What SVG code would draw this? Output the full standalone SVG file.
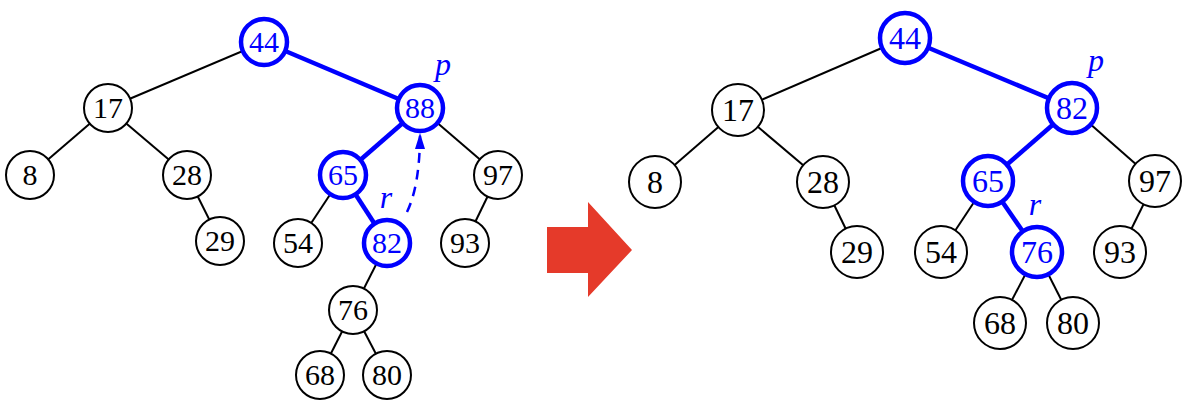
<svg xmlns="http://www.w3.org/2000/svg" width="1190" height="404" viewBox="0 0 1190 404">
<style>
.e{stroke:#000;stroke-width:2;fill:none}
.eb{stroke:#0000ff;stroke-width:4.5;fill:none}
.n{fill:#fff;stroke:#000;stroke-width:2}
.nb{fill:#fff;stroke:#0000ff;stroke-width:4.5}
text{font-family:"Liberation Serif","Times New Roman",serif;text-anchor:middle}
.t{font-size:30px;fill:#000}
.tb{font-size:30px;fill:#0000ff}
.T{font-size:32px;fill:#000}
.TB{font-size:32px;fill:#0000ff}
.lab{font-style:italic;font-size:32px;fill:#0000ff}
</style>
<defs>
<marker id="ah" viewBox="0 0 16 10" refX="16" refY="5" markerWidth="16" markerHeight="10" markerUnits="userSpaceOnUse" orient="auto">
<path d="M0,0 L16,5 L0,10 z" fill="#0000ff"/>
</marker>
</defs>
<rect width="1190" height="404" fill="#fff"/>
<g id="connectors">
<line class="e" x1="264" y1="42" x2="108" y2="108"/>
<line class="eb" x1="264" y1="42" x2="420" y2="108"/>
<line class="e" x1="108" y1="108" x2="30" y2="175"/>
<line class="e" x1="108" y1="108" x2="187" y2="175"/>
<line class="e" x1="187" y1="175" x2="220" y2="241"/>
<line class="eb" x1="420" y1="108" x2="343" y2="175"/>
<line class="e" x1="420" y1="108" x2="498" y2="175"/>
<line class="e" x1="343" y1="175" x2="298" y2="243"/>
<line class="eb" x1="343" y1="175" x2="387" y2="243"/>
<line class="e" x1="498" y1="175" x2="465" y2="243"/>
<line class="e" x1="387" y1="243" x2="353" y2="310"/>
<line class="e" x1="353" y1="310" x2="320" y2="375"/>
<line class="e" x1="353" y1="310" x2="387" y2="375"/>
<path d="M407,212 Q420,185 420,133" stroke="#0000ff" stroke-width="2.5" fill="none" stroke-dasharray="10,7" marker-end="url(#ah)"/>
<line class="e" x1="905" y1="38" x2="738" y2="110"/>
<line class="eb" x1="905" y1="38" x2="1072" y2="108"/>
<line class="e" x1="738" y1="110" x2="655" y2="182"/>
<line class="e" x1="738" y1="110" x2="823" y2="182"/>
<line class="e" x1="823" y1="182" x2="857" y2="252"/>
<line class="eb" x1="1072" y1="108" x2="988" y2="181"/>
<line class="e" x1="1072" y1="108" x2="1155" y2="181"/>
<line class="e" x1="988" y1="181" x2="941" y2="252"/>
<line class="eb" x1="988" y1="181" x2="1037" y2="252"/>
<line class="e" x1="1155" y1="181" x2="1120" y2="252"/>
<line class="e" x1="1037" y1="252" x2="1000" y2="323"/>
<line class="e" x1="1037" y1="252" x2="1073" y2="323"/>
</g>
<g id="L44"><circle class="nb" cx="264" cy="42" r="23"/><text class="tb" x="264" y="52">44</text></g>
<g id="L17"><circle class="n" cx="108" cy="108" r="24"/><text class="t" x="108" y="118">17</text></g>
<g id="L88"><circle class="nb" cx="420" cy="108" r="23"/><text class="tb" x="420" y="118">88</text></g>
<g id="L8"><circle class="n" cx="30" cy="175" r="24"/><text class="t" x="30" y="185">8</text></g>
<g id="L28"><circle class="n" cx="187" cy="175" r="24"/><text class="t" x="187" y="185">28</text></g>
<g id="L65"><circle class="nb" cx="343" cy="175" r="23"/><text class="tb" x="343" y="185">65</text></g>
<g id="L97"><circle class="n" cx="498" cy="175" r="24"/><text class="t" x="498" y="185">97</text></g>
<g id="L29"><circle class="n" cx="220" cy="241" r="24"/><text class="t" x="220" y="251">29</text></g>
<g id="L54"><circle class="n" cx="298" cy="243" r="24"/><text class="t" x="298" y="253">54</text></g>
<g id="L82"><circle class="nb" cx="387" cy="243" r="23"/><text class="tb" x="387" y="253">82</text></g>
<g id="L93"><circle class="n" cx="465" cy="243" r="24"/><text class="t" x="465" y="253">93</text></g>
<g id="L76"><circle class="n" cx="353" cy="310" r="24"/><text class="t" x="353" y="320">76</text></g>
<g id="L68"><circle class="n" cx="320" cy="375" r="24"/><text class="t" x="320" y="385">68</text></g>
<g id="L80"><circle class="n" cx="387" cy="375" r="24"/><text class="t" x="387" y="385">80</text></g>
<g id="Llabels"><text class="lab" x="443" y="75">p</text><text class="lab" x="386" y="208">r</text></g>
<g id="bigarrow"><polygon points="547,227 588,227 588,202 632,250 588,297 588,273 547,273" fill="#e53a2a"/></g>
<g id="R44"><circle class="nb" cx="905" cy="38" r="25"/><text class="TB" x="905" y="49">44</text></g>
<g id="R17"><circle class="n" cx="738" cy="110" r="26"/><text class="T" x="738" y="121">17</text></g>
<g id="R82"><circle class="nb" cx="1072" cy="108" r="25"/><text class="TB" x="1072" y="119">82</text></g>
<g id="R8"><circle class="n" cx="655" cy="182" r="26"/><text class="T" x="655" y="193">8</text></g>
<g id="R28"><circle class="n" cx="823" cy="182" r="26"/><text class="T" x="823" y="193">28</text></g>
<g id="R65"><circle class="nb" cx="988" cy="181" r="25"/><text class="TB" x="988" y="192">65</text></g>
<g id="R97"><circle class="n" cx="1155" cy="181" r="26"/><text class="T" x="1155" y="192">97</text></g>
<g id="R29"><circle class="n" cx="857" cy="252" r="26"/><text class="T" x="857" y="263">29</text></g>
<g id="R54"><circle class="n" cx="941" cy="252" r="26"/><text class="T" x="941" y="263">54</text></g>
<g id="R76"><circle class="nb" cx="1037" cy="252" r="25"/><text class="TB" x="1037" y="263">76</text></g>
<g id="R93"><circle class="n" cx="1120" cy="252" r="26"/><text class="T" x="1120" y="263">93</text></g>
<g id="R68"><circle class="n" cx="1000" cy="323" r="26"/><text class="T" x="1000" y="334">68</text></g>
<g id="R80"><circle class="n" cx="1073" cy="323" r="26"/><text class="T" x="1073" y="334">80</text></g>
<g id="Rlabels"><text class="lab" x="1096" y="71">p</text><text class="lab" x="1035" y="215">r</text></g>
</svg>
